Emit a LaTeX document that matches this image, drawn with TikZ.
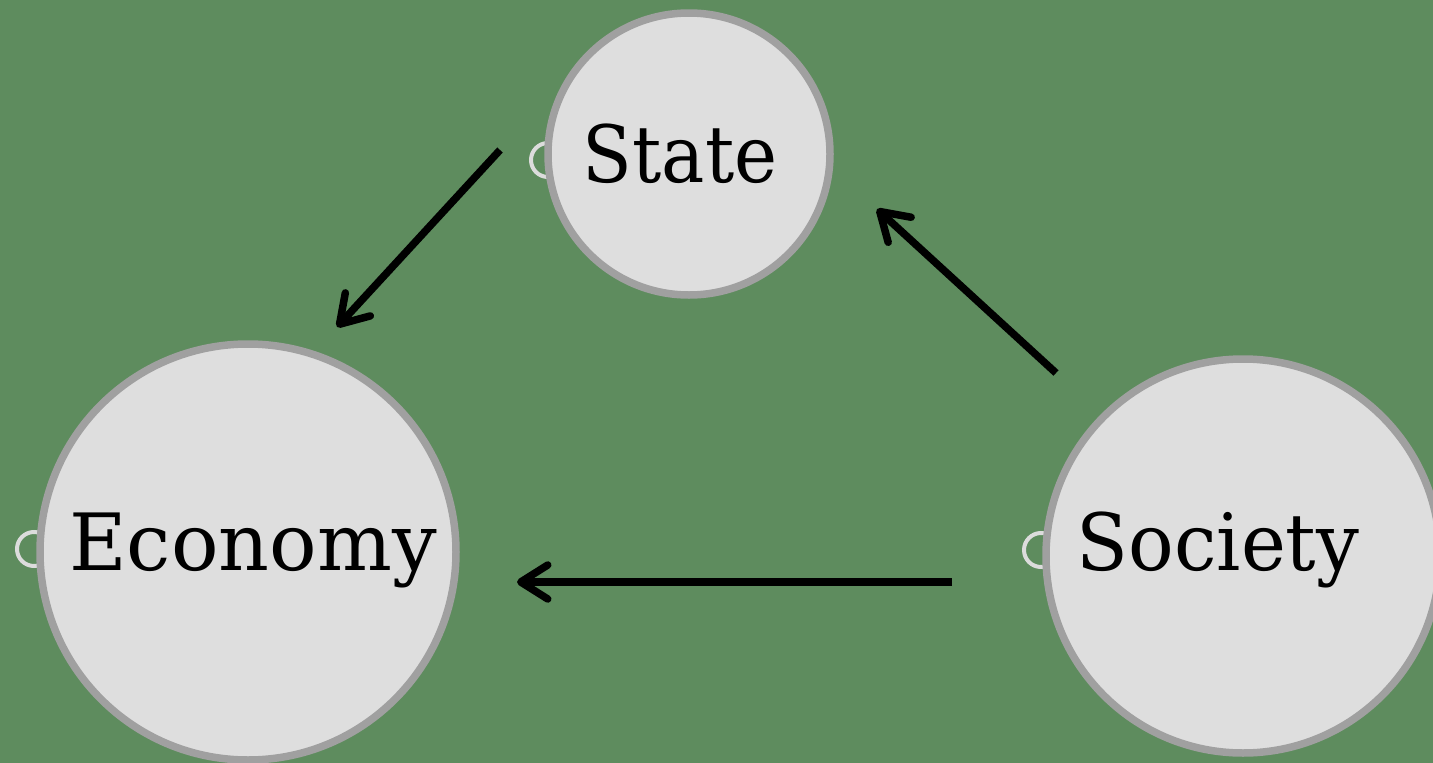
\documentclass[tikz,border=0pt]{standalone}
\usepackage{fontspec}
\setmainfont{DejaVu Serif}
\usetikzlibrary{arrows.meta}
\definecolor{bggreen}{HTML}{5E8C5E}
\definecolor{discfill}{HTML}{DEDEDE}
\definecolor{discline}{HTML}{A0A0A0}
\definecolor{ringcol}{HTML}{DCDCDC}
\tikzset{
  disc/.style={circle, draw=discline, fill=discfill, line width=7.5pt, inner sep=0pt},
  ringmark/.style={circle, draw=ringcol, line width=4pt, inner sep=0pt, minimum size=34pt},
  lbl/.style={anchor=base, inner sep=0pt, text=black, font=\fontsize{79}{90}\selectfont},
  flow/.style={line width=7.5pt, black, -{Straight Barb[length=27pt, width=34pt, round]}}
}
\begin{document}
\begin{tikzpicture}[x=1pt, y=-1pt]
  \fill[bggreen] (0,0) rectangle (1433,763);
  \useasboundingbox (0,0) rectangle (1433,763);
  \clip (0,0) rectangle (1433,763);
  % ring markers (behind discs)
  \node[ringmark] (rs) at (548,160) {};
  \node[ringmark] (re) at (34,549) {};
  \node[ringmark] (ry) at (1041,550) {};
  % discs
  \node[disc, minimum size=282pt] (state) at (689,154) {};
  \node[disc, minimum size=416pt] (economy) at (248,552) {};
  \node[disc, minimum size=394pt] (society) at (1243,556) {};
  % labels
  \node[lbl, xscale=0.92] (tstate) at (680,182) {State};
  \node[lbl] (teconomy) at (253,570) {Economy};
  \node[lbl, xscale=0.96] (tsociety) at (1218,570) {Society};
  % connector end points
  \coordinate (s1) at (500,150);
  \coordinate (e1) at (337,327);
  \coordinate (s2) at (1056,373);
  \coordinate (e2) at (877,209);
  \coordinate (s3) at (952,582);
  \coordinate (e3) at (517,582);
  \draw[flow] (s1) -- (e1);
  \draw[flow] (s2) -- (e2);
  \draw[flow] (s3) -- (e3);
\end{tikzpicture}
\end{document}
